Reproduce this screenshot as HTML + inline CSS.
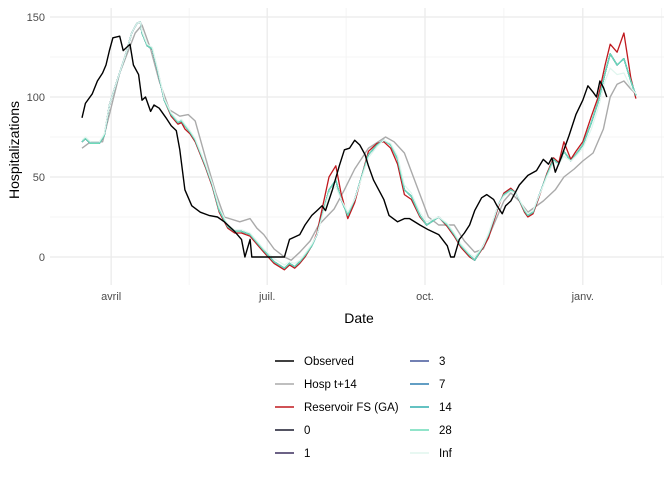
<!DOCTYPE html>
<html><head><meta charset="utf-8"><style>
body{margin:0;background:#fff;font-family:"Liberation Sans",sans-serif}
svg text{font-family:"Liberation Sans",sans-serif}
</style></head><body>
<svg id="chart" width="672" height="480" xmlns="http://www.w3.org/2000/svg">
<g id="grid"></g>
<g id="series"></g>
<g id="axes"></g>
<text x="359" y="323" text-anchor="middle" font-size="14" fill="#000">Date</text>
<text transform="translate(19,150) rotate(-90)" text-anchor="middle" font-size="14" fill="#000">Hospitalizations</text>
<g id="legend"></g>
</svg>
<script>
const yTicks=[0,50,100,150];
const xTickDays=[17,108,200,292];
const xTickLabels=["avril","juil.","oct.","janv."];
const obsDays=[0,2,6,9,12,14,16,18,22,24,28,30,33,35,37,40,42,45,49,52,55,57,60,64,69,74,79,83,89,93,95,98,99,118,121,127,130,134,137,140,142,146,150,153,156,159,162,165,167,170,173,176,179,184,188,191,197,202,208,213,215,217,220,223,226,229,233,236,240,242,245,247,250,252,255,260,265,269,272,274,276,279,284,288,292,295,298,300,302,304,306];
const obsVals=[87,96,102,110,115,120,129,137,138,129,133,120,114,98,100,91,95,93,87,82,79,67,42,32,28,26,25,22,16,11,0,11,0,0,11,14,20,26,29,32,29,42,57,67,68,73,70,64,57,48,42,36,26,22,24,24,20,17,14,7,0,0,11,15,20,29,37,39,36,32,27,32,35,39,45,51,54,61,58,62,53,61,76,89,98,107,103,100,110,106,100];
const grayDays=[0,5,12,22,31,35,40,45,51,57,62,66,72,78,83,92,98,102,106,112,118,122,127,133,138,147,153,159,167,177,182,188,195,202,208,217,223,229,234,240,246,250,255,260,269,276,281,287,292,298,304,308,312,316,320,323];
const grayVals=[68,72,72,115,140,145,130,110,92,88,89,85,62,40,25,22,24,18,14,5,0,-2,3,10,20,30,42,55,68,75,72,65,45,25,20,20,10,3,5,20,35,40,35,28,35,42,50,55,60,65,80,100,108,110,105,102];
const fcDays=[0,2,5,10,13,16,21,25,29,32,34,35,38,41,44,48,52,56,58,60,63,66,72,76,80,85,89,93,98,102,106,112,118,121,124,127,130,134,137,140,144,148,151,155,159,163,167,172,176,180,184,188,192,197,201,208,213,217,221,226,229,234,237,243,246,250,253,258,260,263,266,271,275,278,281,285,288,292,297,301,305,308,312,316,320,323];
const fcVals=[72,74,71,71,76,95,112,125,140,146,147,140,132,130,117,98,89,84,85,82,78,73,57,45,29,19,16,16,14,9,4,-3,-7,-4,-6,-3,1,7,14,26,42,48,36,26,36,50,64,70,73,70,61,42,38,26,20,25,20,14,7,1,-2,7,14,33,39,42,40,29,26,28,37,51,61,58,66,60,64,70,84,97,115,127,120,124,110,101];
const resVals=[72,74,71,71,76,95,112,125,140,146,147,140,132,130,117,98,88,83,84,80,77,72,56,44,28,18,15,15,13,8,3,-4,-8,-5,-7,-4,0,7,15,30,50,57,40,24,34,50,66,71,72,68,58,39,36,25,20,25,19,13,6,0,-2,6,12,32,40,43,40,28,25,27,36,52,62,59,72,61,66,72,88,100,120,133,128,140,112,99];
const infVals=[73,75,72,72,77,95,112,125,140,146,147,141,133,131,118,99,90,85,86,83,79,74,58,46,31,20,17,17,15,10,5,-1,-5,-3,-4,-2,2,8,14,25,40,44,36,28,36,49,62,69,73,71,63,45,40,28,22,25,21,15,8,2,0,7,15,33,38,41,40,30,27,29,37,50,59,58,63,60,63,68,80,93,110,118,114,115,106,102];
const seriesNames=["0","1","3","7","14","28"];
const seriesColors=["#1a1a2e","#3b2f5e","#43569a","#2e7fb0","#30aeae","#6ddcb8"];

const NS="http://www.w3.org/2000/svg";
const L=50,R=664,T=8,B=285;
const x=d=>82+d*1.715;
const y=v=>257-v*1.6;
const grid=document.getElementById('grid');
function ln(p,x1,y1,x2,y2,c,w){const e=document.createElementNS(NS,'line');e.setAttribute('x1',x1);e.setAttribute('y1',y1);e.setAttribute('x2',x2);e.setAttribute('y2',y2);e.setAttribute('stroke',c);e.setAttribute('stroke-width',w);p.appendChild(e);return e;}
function tx(p,s,X,Y,anc,size,col){const e=document.createElementNS(NS,'text');e.textContent=s;e.setAttribute('x',X);e.setAttribute('y',Y);e.setAttribute('text-anchor',anc);e.setAttribute('font-size',size);e.setAttribute('fill',col);p.appendChild(e);return e;}
for(let i=0;i<yTicks.length-1;i++){const m=(yTicks[i]+yTicks[i+1])/2;const g=ln(grid,L,y(m),R,y(m),'#f2f2f2',0.8);

}
for(let i=0;i<xTickDays.length;i++){const m=i<xTickDays.length-1?(xTickDays[i]+xTickDays[i+1])/2:xTickDays[i]+46;const g=ln(grid,x(m),T,x(m),B,'#f2f2f2',0.8);

}
const axes=document.getElementById('axes');
yTicks.forEach(v=>{const g=ln(grid,L,y(v),R,y(v),'#ebebeb',1.3);


const t=tx(axes,String(v),45,y(v)+4,'end',11,'#4d4d4d');

});
xTickDays.forEach((d,i)=>{const g=ln(grid,x(d),T,x(d),B,'#ebebeb',1.3);


const t=tx(axes,xTickLabels[i],x(d),300,'middle',11,'#4d4d4d');

});
const S=document.getElementById('series');
function path(days,vals,col,w,name){const e=document.createElementNS(NS,'path');
e.setAttribute('d',days.map((d,i)=>(i?'L':'M')+x(d).toFixed(1)+','+y(vals[i]).toFixed(1)).join(''));
e.setAttribute('fill','none');e.setAttribute('stroke',col);e.setAttribute('stroke-width',w);e.setAttribute('stroke-linejoin','round');


S.appendChild(e);}
path(grayDays,grayVals,'#aaaaaa',1.4,'hosp-t14-line');
path(fcDays,resVals,'#c0191e',1.3,'reservoir-line');
seriesNames.forEach((n,i)=>path(fcDays,fcVals,seriesColors[i],1.2,'horizon-'+n+'-line'));
path(fcDays,infVals,'#e0f5ee',1.2,'horizon-inf-line');
path(obsDays,obsVals,'#000000',1.4,'observed-line');

const LG=document.getElementById('legend');
const legItems=[["Observed","#000"],["Hosp t+14","#aaaaaa"],["Reservoir FS (GA)","#c0191e"],["0","#1a1a2e"],["1","#3b2f5e"],["3","#43569a"],["7","#2e7fb0"],["14","#30aeae"],["28","#6ddcb8"],["Inf","#e0f5ee"]];
legItems.forEach((it,i)=>{const col=i<5?0:1,row=i%5;const lx=col?410:275,yy=361+row*23;
const g=document.createElementNS(NS,'g');


LG.appendChild(g);ln(g,lx,yy,lx+19,yy,it[1],1.4);tx(g,it[0],lx+29,yy+4,'start',11.5,'#000');});
</script>
</body></html>
